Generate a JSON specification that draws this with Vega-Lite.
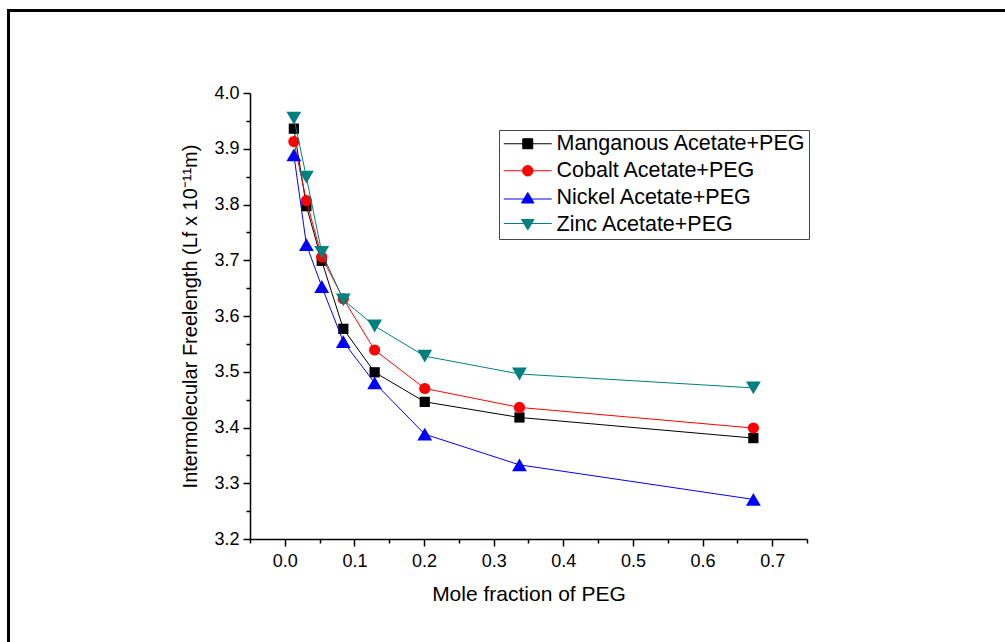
{
  "$schema": "https://vega.github.io/schema/vega-lite/v6.json",
  "width": 557,
  "height": 446,
  "autosize": {"type": "none"},
  "padding": {"left": 250, "top": 93, "right": 198, "bottom": 103},
  "background": "white",
  "config": {
    "view": {"stroke": null},
    "font": "Liberation Sans"
  },
  "data": {
    "values": [
      {"series": "Manganous Acetate+PEG", "x": 0.013, "y": 3.936},
      {"series": "Manganous Acetate+PEG", "x": 0.031, "y": 3.797},
      {"series": "Manganous Acetate+PEG", "x": 0.053, "y": 3.699},
      {"series": "Manganous Acetate+PEG", "x": 0.084, "y": 3.577},
      {"series": "Manganous Acetate+PEG", "x": 0.129, "y": 3.499},
      {"series": "Manganous Acetate+PEG", "x": 0.201, "y": 3.446},
      {"series": "Manganous Acetate+PEG", "x": 0.337, "y": 3.418},
      {"series": "Manganous Acetate+PEG", "x": 0.673, "y": 3.381},
      {"series": "Cobalt Acetate+PEG", "x": 0.013, "y": 3.913},
      {"series": "Cobalt Acetate+PEG", "x": 0.031, "y": 3.807},
      {"series": "Cobalt Acetate+PEG", "x": 0.053, "y": 3.706},
      {"series": "Cobalt Acetate+PEG", "x": 0.084, "y": 3.631},
      {"series": "Cobalt Acetate+PEG", "x": 0.129, "y": 3.539},
      {"series": "Cobalt Acetate+PEG", "x": 0.201, "y": 3.470},
      {"series": "Cobalt Acetate+PEG", "x": 0.337, "y": 3.436},
      {"series": "Cobalt Acetate+PEG", "x": 0.673, "y": 3.399},
      {"series": "Nickel Acetate+PEG", "x": 0.013, "y": 3.889},
      {"series": "Nickel Acetate+PEG", "x": 0.031, "y": 3.728},
      {"series": "Nickel Acetate+PEG", "x": 0.053, "y": 3.653},
      {"series": "Nickel Acetate+PEG", "x": 0.084, "y": 3.554},
      {"series": "Nickel Acetate+PEG", "x": 0.129, "y": 3.480},
      {"series": "Nickel Acetate+PEG", "x": 0.201, "y": 3.388},
      {"series": "Nickel Acetate+PEG", "x": 0.337, "y": 3.333},
      {"series": "Nickel Acetate+PEG", "x": 0.673, "y": 3.271},
      {"series": "Zinc Acetate+PEG", "x": 0.013, "y": 3.955},
      {"series": "Zinc Acetate+PEG", "x": 0.031, "y": 3.849},
      {"series": "Zinc Acetate+PEG", "x": 0.053, "y": 3.714},
      {"series": "Zinc Acetate+PEG", "x": 0.084, "y": 3.629},
      {"series": "Zinc Acetate+PEG", "x": 0.129, "y": 3.582},
      {"series": "Zinc Acetate+PEG", "x": 0.201, "y": 3.528},
      {"series": "Zinc Acetate+PEG", "x": 0.337, "y": 3.496},
      {"series": "Zinc Acetate+PEG", "x": 0.673, "y": 3.471}
    ]
  },
  "encoding": {
    "x": {
      "field": "x",
      "type": "quantitative",
      "scale": {"domain": [-0.05, 0.75], "nice": false, "zero": false},
      "axis": {
        "title": "Mole fraction of PEG",
        "values": [-0.05, 0, 0.05, 0.1, 0.15, 0.2, 0.25, 0.3, 0.35, 0.4, 0.45, 0.5, 0.55, 0.6, 0.65, 0.7, 0.75],
        "labelExpr": "round(datum.value*100) % 10 == 0 ? format(datum.value, '.1f') : ''",
        "tickSize": {"condition": {"test": "round(datum.value*100) % 10 != 0", "value": 4}, "value": 7},
        "grid": false,
        "domainColor": "black",
        "domainWidth": 1.5,
        "tickColor": "black",
        "tickWidth": 1.5,
        "labelColor": "black",
        "labelFontSize": 18,
        "labelPadding": 6,
        "labelFlush": false,
        "labelOverlap": false,
        "titleColor": "black",
        "titleFontSize": 21,
        "titleFontWeight": "normal",
        "titlePadding": 13
      }
    },
    "y": {
      "field": "y",
      "type": "quantitative",
      "scale": {"domain": [3.2, 4.0], "nice": false, "zero": false},
      "axis": {
        "title": "Intermolecular Freelength (Lf x 10⁻¹¹m)",
        "values": [3.2, 3.25, 3.3, 3.35, 3.4, 3.45, 3.5, 3.55, 3.6, 3.65, 3.7, 3.75, 3.8, 3.85, 3.9, 3.95, 4.0],
        "labelExpr": "round(datum.value*100) % 10 == 0 ? format(datum.value, '.1f') : ''",
        "tickSize": {"condition": {"test": "round(datum.value*100) % 10 != 0", "value": 4}, "value": 7},
        "grid": false,
        "domainColor": "black",
        "domainWidth": 1.5,
        "tickColor": "black",
        "tickWidth": 1.5,
        "labelColor": "black",
        "labelFontSize": 18,
        "labelPadding": 4,
        "labelFlush": false,
        "labelOverlap": false,
        "titleColor": "black",
        "titleFontSize": 20,
        "titleFontWeight": "normal",
        "titlePadding": 13
      }
    }
  },
  "layer": [
    {
      "mark": {"type": "rect", "fill": null, "stroke": "black", "strokeWidth": 2.5, "clip": false},
      "encoding": {
        "x": {"datum": -0.3966},
        "x2": {"datum": 1.3},
        "y": {"datum": 4.1476},
        "y2": {"datum": 2.8}
      }
    },
    {
      "transform": [{"filter": "datum.series === 'Manganous Acetate+PEG'"}],
      "mark": {"type": "line", "color": "#000000", "strokeWidth": 1,
               "point": {"shape": "square", "filled": true, "size": 105, "color": "#000000", "opacity": 1}},
      "encoding": {}
    },
    {
      "transform": [{"filter": "datum.series === 'Cobalt Acetate+PEG'"}],
      "mark": {"type": "line", "color": "#ff0000", "strokeWidth": 1,
               "point": {"shape": "circle", "filled": true, "size": 125, "color": "#ff0000", "opacity": 1}},
      "encoding": {}
    },
    {
      "transform": [{"filter": "datum.series === 'Nickel Acetate+PEG'"}],
      "mark": {"type": "line", "color": "#0000ff", "strokeWidth": 1,
               "point": {"shape": "triangle-up", "filled": true, "size": 220, "color": "#0000ff", "opacity": 1}},
      "encoding": {}
    },
    {
      "transform": [{"filter": "datum.series === 'Zinc Acetate+PEG'"}],
      "mark": {"type": "line", "color": "#008080", "strokeWidth": 1,
               "point": {"shape": "triangle-down", "filled": true, "size": 220, "color": "#008080", "opacity": 1}},
      "encoding": {}
    },
    {
      "transform": [{"filter": "datum.x > 100"}],
      "mark": {"type": "point", "filled": true, "opacity": 1},
      "encoding": {
        "fill": {
          "field": "series",
          "type": "nominal",
          "scale": {
            "domain": ["Manganous Acetate+PEG", "Cobalt Acetate+PEG", "Nickel Acetate+PEG", "Zinc Acetate+PEG"],
            "range": ["#000000", "#ff0000", "#0000ff", "#008080"]
          },
          "legend": {
            "title": null,
            "orient": "none",
            "legendX": 249,
            "legendY": 37,
            "strokeColor": "#444444",
            "padding": 3,
            "symbolSize": 100,
            "symbolOffset": 15,
            "symbolStrokeWidth": 1,
            "symbolOpacity": 1,
            "labelOffset": 18,
            "labelFontSize": 21.5,
            "labelColor": "black",
            "labelLimit": 400,
            "rowPadding": 4
          }
        },
        "stroke": {
          "field": "series",
          "type": "nominal",
          "scale": {
            "domain": ["Manganous Acetate+PEG", "Cobalt Acetate+PEG", "Nickel Acetate+PEG", "Zinc Acetate+PEG"],
            "range": ["#000000", "#ff0000", "#0000ff", "#008080"]
          }
        },
        "shape": {
          "field": "series",
          "type": "nominal",
          "scale": {
            "domain": ["Manganous Acetate+PEG", "Cobalt Acetate+PEG", "Nickel Acetate+PEG", "Zinc Acetate+PEG"],
            "range": [
              "M-4.8,0H4.8M-1,-1H1V1H-1Z",
              "M-4.8,0H4.8M1.05,0A1.05,1.05,0,1,1,-1.05,0A1.05,1.05,0,1,1,1.05,0Z",
              "M-4.8,0.25H4.8M0,-1.05L1.25,1.05H-1.25Z",
              "M-4.8,-0.25H4.8M-1.25,-1.05H1.25L0,1.05Z"
            ]
          }
        }
      }
    }
  ]
}
